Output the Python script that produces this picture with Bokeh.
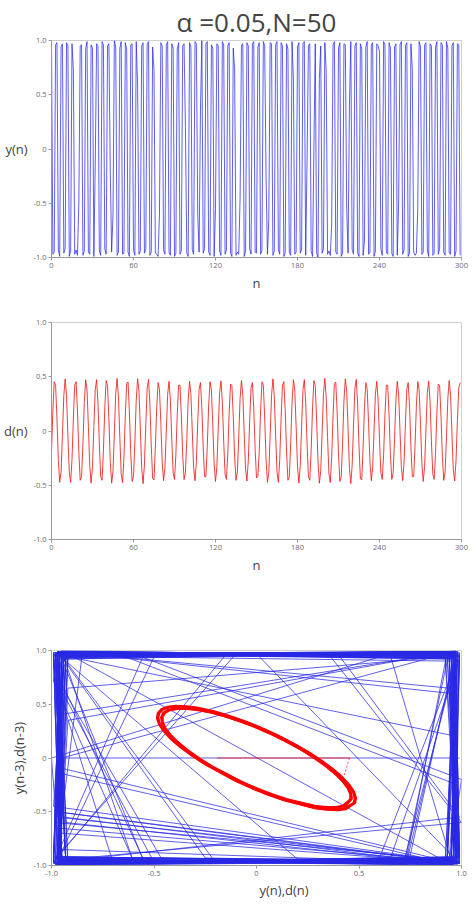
import numpy as np
from bokeh.plotting import figure
from bokeh.layouts import column
from bokeh.models import Range1d, FixedTicker, Title
from bokeh.embed import file_html
from bokeh.resources import INLINE

# ---------------- data ----------------
n = list(range(300))

# y(n): fast, nearly +/-1 oscillation
y = [
    0.99, -0.97, -0.95, 0.96, 0.98, -0.93, -0.99, 0.94, 0.97, -0.96,
    -0.92, 0.98, 0.95, -0.99, -0.94, 0.97, 0.73, -0.97, -0.93, -0.98,
    -0.5, 0.95, 0.96, -0.98, -0.94, 0.92, 0.99, -0.95, -0.97, 0.96,
    0.93, -0.99, -0.15, 0.97, 0.95, -0.94, -0.98, 0.99, 0.96, -0.92,
    -0.97, 0.95, 0.97, -0.2, -0.95, -0.6, 1.0, 0.94, -0.98, -0.95,
    0.93, 0.99, -0.97, -0.96, 0.98, 0.92, -0.95, -0.99, 0.96, 0.97,
    -0.93, -0.98, 0.99, 0.6, -0.97, -0.94, 0.95, 0.98, -0.96, -0.92,
    0.97, 0.99, -0.98, -0.95, 0.94, 0.72, -0.96, -0.97, -0.99, -0.6,
    0.98, 0.95, -0.93, -0.97, 0.96, 0.99, -0.95, -0.98, 0.97, 0.93,
    -0.99, -0.96, 0.92, 0.98, -0.97, -0.94, 0.95, 0.97, 0.2, -0.96,
    -0.99, 0.98, 0.94, -0.93, -0.97, 0.99, 0.97, -0.6, -0.95, 0.35,
    1.0, -0.96, -0.92, 0.97, 0.99, -0.95, -0.98, 0.96, 0.93, -0.99,
    -0.55, 0.97, 0.95, -0.94, -0.98, 0.99, 0.96, -0.97, -0.93, 0.95,
    0.98, -0.96, -0.99, 0.93, 0.73, -0.98, -0.95, -0.97, -0.45, 0.96,
    0.97, -0.99, -0.94, 0.98, 0.95, -0.92, -0.97, 0.97, 0.99, -0.95,
    -0.96, 0.94, 0.98, -0.97, -0.93, 0.99, 0.95, -0.25, -0.97, -0.65,
    0.98, 0.97, -0.98, -0.94, 0.96, 0.99, -0.93, -0.97, 0.98, 0.95,
    -0.99, -0.96, 0.97, 0.92, -0.95, -0.98, 0.99, 0.65, -0.97, -0.95,
    0.94, 0.98, -0.96, -0.93, 0.97, 0.99, -0.98, -0.1, 0.95, 0.97,
    -0.94, -0.99, 0.0, 0.97, -0.96, -1.0, 0.65, 0.95, -0.96, -0.92,
    0.98, 0.72, -0.97, -0.94, -0.98, -0.7, 0.96, 0.99, -0.95, -0.97,
    0.93, 0.98, -0.99, -0.96, 0.97, 0.96, -0.55, -0.96, 0.4, 0.99,
    -0.93, -0.97, 0.95, 0.98, -0.96, -0.99, 0.97, 0.93, -0.98, -0.85,
    0.94, 0.99, -0.97, -0.95, 0.96, 0.98, -0.99, -0.94, 0.97, 0.95,
    0.9, -0.92, -0.98, 0.99, 0.96, -0.95, -0.97, 0.98, 0.93, -0.96,
    -0.99, 0.94, 0.97, -0.98, -0.5, 0.96, 0.99, -0.97, -0.93, 0.95,
    0.98, -0.99, -0.96, 0.97, 0.74, -0.95, -0.98, -0.96, -0.55, 0.99,
    0.94, -0.97, -0.95, 0.96, 0.98, -0.93, -0.99, 0.97, 0.95, -0.98,
    -0.96, 0.94, 0.99, -0.97, -0.92, 0.98, 0.96, -0.95, -0.98, 0.99,
    0.93, -0.96, -0.97, 0.95, 0.98, -0.99, -0.94, 0.97, 0.96, -0.98,
]

# d(n): sinusoid of amplitude ~0.47, about 7.6 samples per cycle; four read cycle groups
d_cycle_a = [-0.193, 0.193, 0.454, 0.422, 0.118, -0.263, -0.473, -0.379, -0.040, 0.325,
             0.48, 0.325, -0.040, -0.379, -0.473, -0.263, 0.118, 0.422, 0.454, 0.193,
             -0.193, -0.454, -0.422, -0.118, 0.263, 0.473, 0.379, 0.040, -0.325, -0.48,
             -0.325, 0.040, 0.379, 0.473, 0.263, -0.118, -0.422, -0.454]
d_cycle_b = [-0.176, 0.213, 0.465, 0.417, 0.1, -0.282, -0.481, -0.37, -0.02, 0.343,
             0.485, 0.313, -0.06, -0.395, -0.475, -0.248, 0.138, 0.436, 0.452, 0.176,
             -0.213, -0.465, -0.417, -0.1, 0.282, 0.481, 0.37, 0.02, -0.343, -0.485,
             -0.313, 0.06, 0.395, 0.475, 0.248, -0.138, -0.436, -0.452]
d_cycle_c = [-0.149, 0.219, 0.446, 0.385, 0.076, -0.283, -0.458, -0.338, 0.0, 0.338,
             0.458, 0.283, -0.076, -0.385, -0.446, -0.219, 0.149, 0.421, 0.421, 0.149,
             -0.219, -0.446, -0.385, -0.076, 0.283, 0.458, 0.338, 0.0, -0.338, -0.458,
             -0.283, 0.076, 0.385, 0.446, 0.219, -0.149, -0.421, -0.421]
d_cycle_d = [-0.133, 0.238, 0.455, 0.378, 0.058, -0.301, -0.465, -0.329, 0.019, 0.355,
             0.461, 0.27, -0.095, -0.399, -0.446, -0.204, 0.169, 0.433, 0.418, 0.133,
             -0.238, -0.455, -0.378, -0.058, 0.301, 0.465, 0.329, -0.019, -0.355, -0.461,
             -0.27, 0.095, 0.399, 0.446, 0.204, -0.169, -0.433, -0.418]
CYCLE = len(d_cycle_a)
d = (d_cycle_a + d_cycle_b + d_cycle_c + d_cycle_d
     + d_cycle_a + d_cycle_b + d_cycle_c + d_cycle_d[:34])

LAG = 3
y_lag = [0.0] * LAG + y[:-LAG]
d_lag = [0.0] * LAG + d[:-LAG]

x_ticks = [0, 60, 120, 180, 240, 300]
v_ticks = [-1, -0.5, 0, 0.5, 1]
v_labels = {-1: "-1.0", -0.5: "-0.5", 0: "0", 0.5: "0.5", 1: "1.0"}

title_text = "\u03b1 =0.05,N=50"

FONT = "Open Sans"


def make_fig(h, bl, br, bt, bb, xr, xt, xlabels):
    p = figure(width=476, height=h, x_range=Range1d(*xr), y_range=Range1d(-1, 1),
               output_backend="svg", toolbar_location=None,
               min_border_left=bl, min_border_right=br,
               min_border_top=bt, min_border_bottom=bb)
    p.grid.visible = False
    p.outline_line_color = "#d0d0d0"
    p.background_fill_color = "white"
    p.border_fill_color = "white"
    p.xaxis.ticker = FixedTicker(ticks=xt)
    p.yaxis.ticker = FixedTicker(ticks=v_ticks)
    p.yaxis.major_label_overrides = v_labels
    if xlabels:
        p.xaxis.major_label_overrides = xlabels
    for ax in (p.xaxis[0], p.yaxis[0]):
        ax.axis_line_color = "#9a9a9a"
        ax.major_tick_line_color = "#9a9a9a"
        ax.major_tick_out = 3
        ax.major_tick_in = 0
        ax.minor_tick_line_color = None
        ax.major_label_text_font_size = "7.5px"
        ax.major_label_text_color = "#6a6a6a"
        ax.major_label_text_font = FONT
        ax.major_label_standoff = 2
        ax.axis_label_text_font = FONT
        ax.axis_label_text_font_style = "normal"
        ax.axis_label_text_color = "#444444"
        ax.axis_label_text_font_size = "13px"
        ax.axis_label_standoff = 3
    return p


# ---- top: y(n) ----
p1 = make_fig(300, 45, 14, 40, 43, (0, 300), x_ticks, None)
p1.title.text = title_text
p1.title.align = "center"
p1.title.text_font = FONT
p1.title.text_font_size = "26px"
p1.title.text_font_style = "normal"
p1.title.text_color = "#444444"
p1.title.standoff = 2
p1.xaxis.axis_label = "n"
p1.yaxis.axis_label = "y(n)"
p1.yaxis.axis_label_orientation = "horizontal"
p1.line(n, y, line_color="#2a2aee", line_alpha=0.75, line_width=1)

# ---- middle: d(n) ----
p2 = make_fig(300, 47, 15, 22, 61, (0, 300), x_ticks, None)
p2.xaxis.axis_label = "n"
p2.yaxis.axis_label = "d(n)"
p2.yaxis.axis_label_orientation = "horizontal"
p2.line(n, d, line_color="#ee1c1c", line_alpha=0.85, line_width=1)

# ---- bottom: phase plot ----
p3 = make_fig(306, 50, 8, 50, 41, (-1, 1), v_ticks, v_labels)
p3.yaxis.axis_label = "y(n-3),d(n-3)"
p3.add_layout(Title(text="y(n),d(n)", align="left", offset=208, text_font=FONT,
                    text_font_size="13px", text_font_style="normal",
                    text_color="#444444", standoff=0), "below")
p3.line(y, y_lag, line_color="#2a2ae6", line_alpha=0.75, line_width=1)

# start-up part of d (delayed value still zero)
p3.line(d[:LAG], d_lag[:LAG], line_color="#ff2020", line_alpha=0.8, line_width=1)
p3.line(d[LAG - 1:LAG + 1], d_lag[LAG - 1:LAG + 1], line_color="#ff2020",
        line_alpha=0.8, line_width=1, line_dash="2 2")

# steady state: (d(n), d(n-3)) points of each cycle group, joined round the origin
sx = np.array(d)
sy = np.array(d_lag)
idx = np.arange(LAG, len(d))
same_group = (idx // CYCLE) == ((idx - LAG) // CYCLE)
idx = idx[same_group]
grp = (idx // CYCLE) % 4
for g in range(4):
    sel = idx[grp == g]
    sel = sel[np.argsort(np.arctan2(sy[sel], sx[sel]))]
    sel = np.append(sel, sel[0])
    p3.line(sx[sel], sy[sel], line_color="#ff0000", line_width=2.3)

layout = column(p1, p2, p3, spacing=0)
open("out.html", "w").write(file_html(layout, INLINE))
